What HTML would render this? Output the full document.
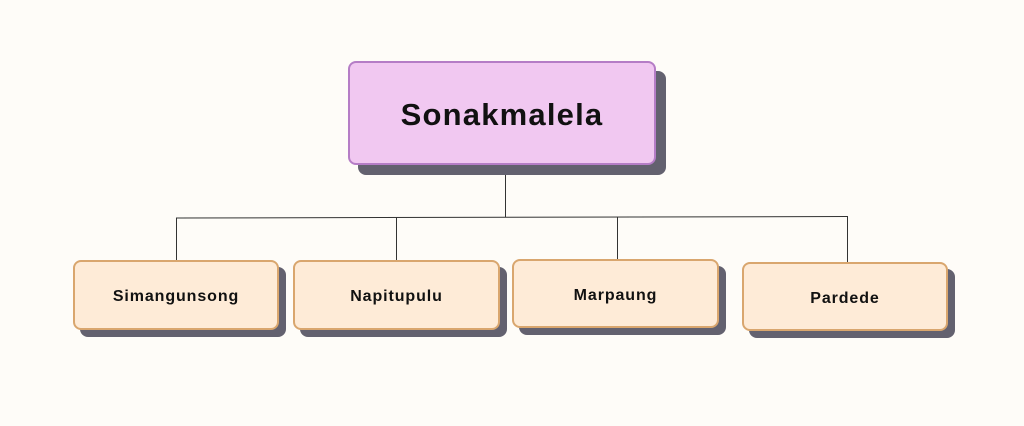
<!DOCTYPE html><html><head><style>
body{margin:0;width:1024px;height:426px;background:#fefcf8;position:relative;font-family:"Liberation Sans",sans-serif;overflow:hidden}
.b{position:absolute;box-sizing:border-box;display:flex;align-items:center;justify-content:center;font-weight:bold;color:#111;border-radius:8px}
.s{position:absolute;background:#63616f;border-radius:8px}
.c{background:#feebd7;border:2px solid #d9a66e;font-size:16px;letter-spacing:0.9px;padding-top:4px}
</style></head><body>
<svg width="1024" height="426" style="position:absolute;left:0;top:0">
<g stroke="#333" stroke-width="1" fill="none">
<line x1="505.5" y1="165" x2="505.5" y2="217"/>
<line x1="176" y1="218" x2="848" y2="216.5"/>
<line x1="176.5" y1="218" x2="176.5" y2="260"/>
<line x1="396.5" y1="217.5" x2="396.5" y2="260"/>
<line x1="617.5" y1="217" x2="617.5" y2="259"/>
<line x1="847.5" y1="216.5" x2="847.5" y2="262"/>
</g></svg>
<div class="s" style="left:358px;top:71px;width:308px;height:104px"></div>
<div class="b" style="left:348px;top:61px;width:308px;height:104px;background:#f1c8f1;border:2px solid #b57dc6;font-size:31px;letter-spacing:1.2px;padding-top:3px">Sonakmalela</div>
<div class="s" style="left:80px;top:267px;width:206px;height:70px"></div>
<div class="b c" style="left:73px;top:260px;width:206px;height:70px">Simangunsong</div>
<div class="s" style="left:300px;top:267px;width:207px;height:70px"></div>
<div class="b c" style="left:293px;top:260px;width:207px;height:70px">Napitupulu</div>
<div class="s" style="left:519px;top:266px;width:207px;height:69px"></div>
<div class="b c" style="left:512px;top:259px;width:207px;height:69px">Marpaung</div>
<div class="s" style="left:749px;top:269px;width:206px;height:69px"></div>
<div class="b c" style="left:742px;top:262px;width:206px;height:69px">Pardede</div>
</body></html>
